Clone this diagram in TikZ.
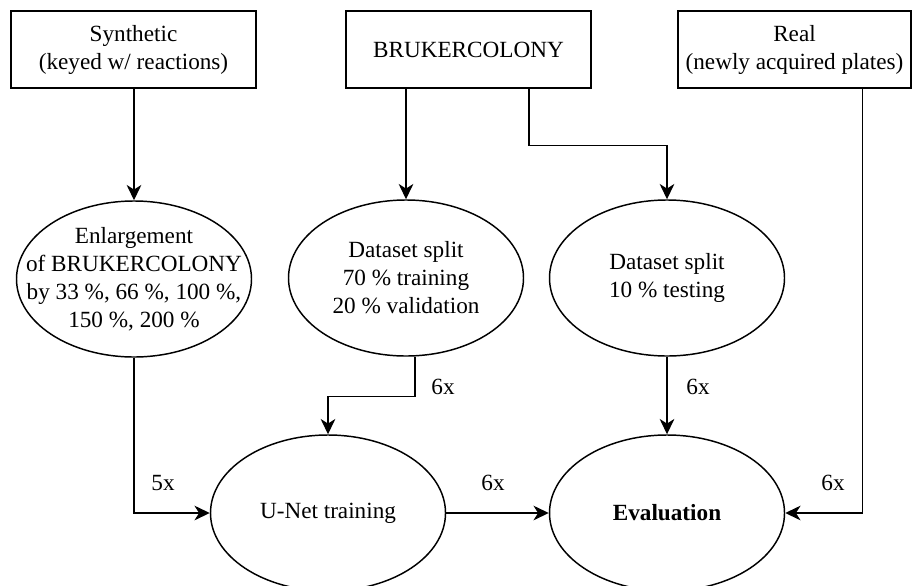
\documentclass[tikz,border=0pt]{standalone}
\usepackage{fontspec}
\setmainfont{Liberation Serif}
\usetikzlibrary{shapes.geometric,arrows.meta,calc}

\begin{document}
\begin{tikzpicture}[x=0.75pt,y=-0.75pt,
  font=\fontsize{17.4}{21}\selectfont,
  src/.style={draw,line width=1.2pt,minimum width=183.75pt,minimum height=57.75pt,align=center,inner sep=0pt},
  oval/.style={draw,ellipse,line width=1.1pt,minimum width=176.25pt,minimum height=117pt,align=center,inner sep=-20pt},
  flow/.style={-{Stealth[length=11.5pt,width=11pt,inset=3.5pt]},line width=1pt}]
\useasboundingbox (0,0) rectangle (912,585);

% data sources
\node (syn) at (133.5,49.5) [src]{Synthetic\\(keyed w/ reactions)};
\node (bru) at (468.5,49.5) [src]{BRUKERCOLONY};
\node (real) at (794.5,49.5) [src,minimum width=174.75pt]{Real\\(newly acquired plates)};

% processing steps
\node (enl) at (134,279) [oval]{Enlargement\\of BRUKERCOLONY\\by 33 \%, 66 \%, 100 \%,\\150 \%, 200 \%};
\node (trval) at (406,278) [oval]{Dataset split\\70 \% training\\20 \% validation};
\node (test) at (667,278) [oval]{Dataset split\\10 \% testing};
\node (unet) at (328,513) [oval]{U-Net training};
\node (eval) at (667,513) [oval]{\textbf{Evaluation}};

% run counts
\node (n5) at (163,483) {5x};
\node (n6a) at (443,387) {6x};
\node (n6b) at (698,387) {6x};
\node (n6c) at (493,483) {6x};
\node (n6d) at (833,483) {6x};

\draw[flow] (enl |- syn.south) -- (enl);
\draw[flow] (trval |- bru.south) -- (trval);
\draw[flow] ($(bru.south)+(60.5,0)$) -- ++(0,57) -| (test);
\draw[flow] ($(real.south)+(68,0)$) |- (eval);
\draw[flow] (enl) |- (unet);
\draw[flow] ($(trval.south)+(9,0)$) -- ++(0,40) -| (unet);
\draw[flow] (test) -- (eval);
\draw[flow] (unet) -- (eval);

\end{tikzpicture}
\end{document}
